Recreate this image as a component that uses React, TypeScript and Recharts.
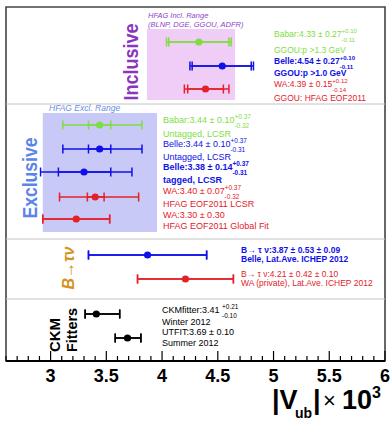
import { ScatterChart, Scatter, XAxis, YAxis, ErrorBar, ReferenceArea, ReferenceLine } from 'recharts';

// |Vub| measurements, top to bottom (x in units of 10^-3, row = vertical slot)
const names = [
  'Babar incl', 'Belle incl', 'WA incl',
  'Babar untagged', 'Belle untagged', 'Belle tagged', 'WA LCSR', 'WA global fit',
  'Belle B->taunu', 'WA B->taunu',
  'CKMfitter', 'UTfit',
];
const values = [4.33, 4.54, 4.39, 3.44, 3.44, 3.30, 3.40, 3.23, 3.87, 4.21, 3.41, 3.69];
const statLow = [4.06, 4.27, 4.23, 3.34, 3.34, 3.07, 3.33, 2.93, 3.34, 3.78, 3.31, 3.58];
const statHigh = [4.60, 4.80, 4.55, 3.54, 3.54, 3.54, 3.48, 3.53, 4.40, 4.64, 3.62, 3.81];
const totLow = [4.04, 4.25, 4.20, 3.11, 3.11, 2.91, 3.08, 2.93, 3.34, 3.78, 3.31, 3.58];
const totHigh = [4.62, 4.82, 4.60, 3.82, 3.82, 3.73, 3.79, 3.53, 4.40, 4.64, 3.62, 3.81];
const rows = [3.5, 5.9, 8.2, 11.8, 14.2, 16.5, 19.0, 21.2, 24.8, 27.2, 30.7, 33.1];
const pointColors = [
  '#7fdd3f', '#1010e8', '#e4202a',
  '#7fdd3f', '#1010e8', '#1010e8', '#e4202a', '#e4202a',
  '#1010e8', '#e4202a',
  '#000000', '#000000',
];

const separators = [9.7, 23.2, 29.2];
const inclRange = [3.865, 4.655];
const exclRange = [2.93, 3.955];

const majorTicks = [3, 3.5, 4, 4.5, 5, 5.5, 6];
const allTicks = [
  2.6, 2.7, 2.8, 2.9, 3, 3.1, 3.2, 3.3, 3.4, 3.5, 3.6, 3.7, 3.8, 3.9, 4,
  4.1, 4.2, 4.3, 4.4, 4.5, 4.6, 4.7, 4.8, 4.9, 5, 5.1, 5.2, 5.3, 5.4, 5.5,
  5.6, 5.7, 5.8, 5.9, 6,
];

const points = names.map((name, i) => ({
  name,
  x: values[i],
  y: rows[i],
  stat: [values[i] - statLow[i], statHigh[i] - values[i]],
  tot: [values[i] - totLow[i], totHigh[i] - values[i]],
}));

const FONT = '"Liberation Sans", Arial, Helvetica, sans-serif';

// Arial advance widths for the characters used in super/subscripts
const CW: Record<string, number> = { '+': 0.584, '-': 0.333, '.': 0.278 };
const textW = (s: string, size: number) =>
  s.split('').reduce((a, c) => a + (CW[c] ?? 0.556), 0) * size;

function AxisTick({ x, y, payload }: any) {
  const v = payload.value;
  const major = majorTicks.some(m => Math.abs(m - v) < 1e-6);
  return (
    <g>
      <line x1={x} x2={x} y1={y} y2={y - (major ? 10 : 5)} stroke="#000" strokeWidth={1.2} />
      {major && (
        <text x={x} y={y + 21} textAnchor="middle" fontSize={18} fontWeight="bold" fontFamily={FONT} fill="#000">
          {String(v)}
        </text>
      )}
    </g>
  );
}

function Meas({ x, y, main, sup, sub, color, bold, size = 8.5 }: any) {
  const s = size * 0.72;
  return (
    <text x={x} y={y} fill={color} fontSize={size} fontWeight={bold ? 'bold' : 'normal'} fontFamily={FONT}>
      {main}
      {sup && <tspan fontSize={s} dy={-size * 0.42}>{sup}</tspan>}
      {sub && <tspan fontSize={s} dx={-textW(sup, s)} dy={size * 0.95}>{sub}</tspan>}
    </text>
  );
}

function Line({ x, y, text, color, bold, size = 8.5, italic }: any) {
  return (
    <text x={x} y={y} fill={color} fontSize={size} fontWeight={bold ? 'bold' : 'normal'}
      fontStyle={italic ? 'italic' : 'normal'} fontFamily={FONT}>
      {text}
    </text>
  );
}

function Vertical({ x, y, text, color, size, length, italic }: any) {
  return (
    <text transform={`translate(${x},${y}) rotate(-90)`} textAnchor="middle" dominantBaseline="central"
      fill={color} fontSize={size} fontWeight="bold" fontStyle={italic ? 'italic' : 'normal'} fontFamily={FONT}
      textLength={length} lengthAdjust="spacingAndGlyphs">
      {text}
    </text>
  );
}

const GREEN = '#7fdd3f';
const BLUE = '#1010e8';
const RED = '#e4202a';

export default function App() {
  return (
    <div style={{ position: 'absolute', left: 0, top: 0, width: 390, height: 422, background: '#fff' }}>
      <ScatterChart width={390} height={422} margin={{ top: 7, right: 5, bottom: 31, left: 6 }}>
        <XAxis
          type="number"
          dataKey="x"
          domain={[2.6, 6]}
          allowDataOverflow
          ticks={allTicks}
          interval={0}
          height={30}
          tickSize={0}
          tickMargin={0}
          tickLine={false}
          axisLine={{ stroke: '#000', strokeWidth: 2 }}
          tick={<AxisTick />}
        />
        <YAxis type="number" dataKey="y" domain={[0, 35.4]} reversed hide width={0} allowDataOverflow />
        <ReferenceArea x1={inclRange[0]} x2={inclRange[1]} y1={2.2} y2={9.3} fill="#efcdf6" fillOpacity={1} stroke="none" />
        <ReferenceArea x1={exclRange[0]} x2={exclRange[1]} y1={10.6} y2={22.5} fill="#c9c9f7" fillOpacity={1} stroke="none" />
        {separators.map(s => (
          <ReferenceLine key={s} y={s} stroke="#c4c4c4" strokeWidth={1} />
        ))}
        {points.map((p, i) => (
          <Scatter
            key={p.name}
            data={[p]}
            isAnimationActive={false}
            shape={(props: any) => <circle cx={props.cx} cy={props.cy} r={3.6} fill={pointColors[i]} />}
          >
            <ErrorBar dataKey="tot" direction="x" width={4.5} stroke={pointColors[i]} strokeWidth={1.5} isAnimationActive={false} />
            <ErrorBar dataKey="stat" direction="x" width={4.5} stroke={pointColors[i]} strokeWidth={1.5} isAnimationActive={false} />
          </Scatter>
        ))}
        <ReferenceArea x1={2.6} x2={6} y1={0} y2={35.4} fill="none" stroke="#444" strokeWidth={1.6} />
      </ScatterChart>

      <svg width={390} height={422} style={{ position: 'absolute', left: 0, top: 0, pointerEvents: 'none' }}>
        {/* section labels */}
        <Vertical x={131} y={62} text="Inclusive" color="#8a35c0" size={20} length={77} />
        <Vertical x={30} y={178} text="Exclusive" color="#5b84e8" size={20} length={81} />
        <Vertical x={68} y={268} text="B→τν" color="#d4941c" size={16} length={43} italic />
        <Vertical x={54} y={335} text="CKM" color="#000" size={15} length={34} />
        <Vertical x={71} y={330} text="Fitters" color="#000" size={15} length={44} />

        {/* range labels */}
        <Line x={148} y={18} text="HFAG Incl. Range" color="#8e44c8" size={7.5} italic />
        <Line x={148} y={27} text="(BLNP, DGE, GGOU, ADFR)" color="#8e44c8" size={7.5} italic />
        <Line x={49} y={111} text="HFAG Excl. Range" color="#6a8de8" size={8.5} italic />

        {/* inclusive */}
        <Meas x={274} y={37} main="Babar:4.33 ± 0.27" sup="+0.10" sub="-0.11" color={GREEN} />
        <Line x={274} y={53} text="GGOU:p >1.3 GeV" color={GREEN} />
        <Meas x={274} y={64} main="Belle:4.54 ± 0.27" sup="+0.10" sub="-0.11" color={BLUE} bold />
        <Line x={274} y={76} text="GGOU:p >1.0 GeV" color={BLUE} bold />
        <Meas x={274} y={87} main="WA:4.39 ± 0.15" sup="+0.12" sub="-0.14" color={RED} />
        <Line x={274} y={101} text="GGOU: HFAG EOF2011" color={RED} />

        {/* exclusive */}
        <Meas x={163} y={123} main="Babar:3.44 ± 0.10" sup="+0.37" sub="-0.32" color={GREEN} size={9} />
        <Line x={163} y={137} text="Untagged, LCSR" color={GREEN} size={9} />
        <Meas x={163} y={147} main="Belle:3.44 ± 0.10" sup="+0.37" sub="-0.31" color={BLUE} size={9} />
        <Line x={163} y={160} text="Untagged, LCSR" color={BLUE} size={9} />
        <Meas x={163} y={170} main="Belle:3.38 ± 0.14" sup="+0.37" sub="-0.31" color={BLUE} size={9} bold />
        <Line x={163} y={183} text="tagged, LCSR" color={BLUE} size={9} bold />
        <Meas x={163} y={194} main="WA:3.40 ± 0.07" sup="+0.37" sub="-0.32" color={RED} size={9} />
        <Line x={163} y={207} text="HFAG EOF2011 LCSR" color={RED} size={9} />
        <Line x={163} y={218} text="WA:3.30 ± 0.30" color={RED} size={9} />
        <Line x={163} y={229} text="HFAG EOF2011 Global Fit" color={RED} size={9} />

        {/* B -> tau nu */}
        <Line x={241} y={253} text="B→ τ ν:3.87 ± 0.53 ± 0.09" color={BLUE} bold />
        <Line x={241} y={262} text="Belle, Lat.Ave. ICHEP 2012" color={BLUE} bold />
        <Line x={241} y={277} text="B→ τ ν:4.21 ± 0.42 ± 0.10" color={RED} />
        <Line x={241} y={286} text="WA (private), Lat.Ave. ICHEP 2012" color={RED} />

        {/* CKM fitters */}
        <Meas x={162} y={313} main="CKMfitter:3.41 " sup="+0.21" sub="-0.10" color="#000" size={9} />
        <Line x={162} y={325} text="Winter 2012" color="#000" size={9} />
        <Line x={162} y={335} text="UTFIT:3.69 ± 0.10" color="#000" size={9} />
        <Line x={162} y={346} text="Summer 2012" color="#000" size={9} />

        {/* axis title */}
        <text x={272} y={409} fontSize={27} fontWeight="bold" fontFamily={FONT} fill="#000">|V</text>
        <text x={295} y={418} fontSize={14} fontWeight="bold" fontFamily={FONT} fill="#000">ub</text>
        <text x={313} y={409} fontSize={27} fontWeight="bold" fontFamily={FONT} fill="#000">|</text>
        <text x={323} y={408} fontSize={22} fontFamily={FONT} fill="#000">×</text>
        <text x={342} y={409} fontSize={27} fontWeight="bold" fontFamily={FONT} fill="#000">10</text>
        <text x={372} y={398} fontSize={16} fontWeight="bold" fontFamily={FONT} fill="#000">3</text>
      </svg>
    </div>
  );
}
